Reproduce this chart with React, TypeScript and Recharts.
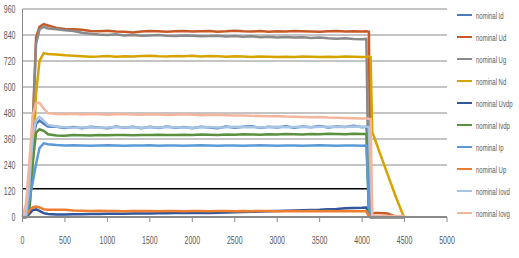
import { LineChart, Line, XAxis, YAxis, ReferenceLine } from "recharts";

// time axis (shared by every series)
const X = [
  0, 40, 80, 120, 160, 200, 250, 300,
  400, 500, 600, 700, 800, 900, 1000, 1100, 1200, 1300, 1400, 1500, 1600, 1700, 1800, 1900,
  2000, 2100, 2200, 2300, 2400, 2500, 2600, 2700, 2800, 2900, 3000, 3100, 3200, 3300, 3400,
  3500, 3600, 3700, 3800, 3900, 4000,
  4050, 4080, 4100, 4120, 4150, 4200, 4300, 4400, 4490,
];

const ID = [
  0, 5, 120, 350, 430, 445, 430, 418,
  416, 411, 415, 410, 417, 413, 410, 418, 412, 416, 410, 417, 411, 418, 412, 415, 410, 417, 413,
  410, 418, 412, 416, 419, 411, 417, 413, 419, 412, 418, 414, 420, 413, 418, 415, 421, 414,
  416, 300, 0, 0, 0, 0, 0, 0, 0,
];
const UD = [
  0, 0, 20, 420, 830, 878, 890, 884,
  872, 868, 866, 864, 858, 857, 860, 856, 855, 852, 856, 858, 857, 855, 857, 859, 856, 857, 858,
  855, 857, 860, 857, 856, 858, 855, 857, 856, 858, 857, 856, 855, 857, 858, 856, 857, 856,
  857, 855, 60, 15, 18, 18, 16, 2, 0,
];
const UG = [
  0, 0, 15, 400, 800, 865, 878, 870,
  866, 862, 858, 850, 846, 842, 840, 843, 838, 840, 836, 838, 840, 837, 835, 838, 836, 834, 835,
  837, 833, 835, 832, 834, 830, 832, 829, 831, 828, 830, 826, 828, 825, 823, 825, 822, 820,
  822, 40, 0, 0, 0, 0, 0, 0, 0,
];
const ND = [
  0, 0, 20, 230, 570, 720, 756, 752,
  750, 746, 744, 742, 740, 741, 743, 740, 742, 741, 743, 744, 742, 741, 743, 742, 744, 741, 743,
  742, 740, 742, 741, 739, 741, 740, 738, 740, 739, 741, 740, 738, 740, 739, 741, 740, 739,
  740, 741, 738, 390, 360, 305, 197, 90, 2,
];
const UVDP = [
  0, 0, 15, 32, 35, 28, 18, 14,
  12, 12, 13, 13, 14, 14, 15, 15, 15, 16, 16, 16, 17, 17, 18, 18, 18, 19, 19,
  20, 21, 22, 23, 24, 25, 26, 28, 29, 30, 31, 32, 33, 36, 37, 40, 42, 43,
  44, 3, 0, 0, 0, 0, 0, 0, 0,
];
const IVDP = [
  0, 0, 30, 250, 390, 405, 398, 382,
  376, 375, 378, 377, 376, 378, 377, 379, 378, 377, 379, 378, 380, 379, 378, 380, 379, 381, 380,
  379, 381, 380, 382, 381, 380, 382, 381, 383, 382, 381, 383, 382, 384, 383, 382, 384, 383,
  383, 10, 0, 0, 0, 0, 0, 0, 0,
];
const IP = [
  0, 5, 80, 160, 245, 318, 340, 336,
  332, 330, 331, 330, 329, 330, 331, 330, 329, 330, 330, 331, 329, 330, 330, 329, 330, 331, 330,
  329, 330, 330, 329, 330, 331, 330, 329, 330, 330, 329, 330, 331, 330, 329, 330, 330, 329,
  330, 60, 0, 0, 0, 0, 0, 0, 0,
];
const UP = [
  0, 5, 30, 44, 48, 44, 36, 34,
  34, 33, 30, 29, 28, 29, 28, 28, 27, 28, 28, 28, 27, 28, 28, 27, 28, 28, 27,
  28, 28, 27, 28, 27, 28, 28, 27, 27, 28, 27, 28, 27, 28, 27, 28, 27, 27,
  27, 2, 0, 0, 0, 0, 0, 0, 0,
];
const IOVD = [
  0, 10, 150, 380, 448, 462, 445, 425,
  418, 414, 412, 413, 414, 412, 413, 415, 413, 414, 412, 414, 413, 415, 414, 413, 412, 414, 415,
  413, 414, 416, 414, 415, 413, 415, 416, 414, 415, 416, 414, 416, 417, 415, 416, 418, 416,
  416, 415, 200, 5, 4, 4, 4, 4, 4,
];
const IOVG = [
  0, 60, 250, 470, 525, 527, 500, 480,
  475, 474, 476, 473, 475, 474, 472, 474, 475, 473, 472, 474, 473, 471, 472, 474, 472, 470, 471,
  472, 470, 468, 469, 467, 466, 465, 466, 464, 463, 462, 460, 461, 459, 458, 457, 456, 455,
  455, 454, 452, 6, 5, 5, 5, 5, 5,
];

const X_TICKS = [0, 500, 1000, 1500, 2000, 2500, 3000, 3500, 4000, 4500, 5000];
const Y_TICKS = [0, 120, 240, 360, 480, 600, 720, 840, 960];
const GRID_VALUES = [240, 360, 480, 600, 720, 840, 960];
// the black rule drawn across the plot just above 120
const MARK_Y = 130;
const MARK_END = 4120;

const SERIES = [
  { key: "Id", name: "nominal Id", color: "#4a7ebb", values: ID },
  { key: "Ud", name: "nominal Ud", color: "#c55a28", values: UD },
  { key: "Ug", name: "nominal Ug", color: "#8a8a8a", values: UG },
  { key: "Nd", name: "nominal Nd", color: "#d6a400", values: ND },
  { key: "Uvdp", name: "nominal Uvdp", color: "#30579c", values: UVDP },
  { key: "Ivdp", name: "nominal Ivdp", color: "#5a9040", values: IVDP },
  { key: "Ip", name: "nominal Ip", color: "#5b9bd5", values: IP },
  { key: "Up", name: "nominal Up", color: "#ed7d31", values: UP },
  { key: "Iovd", name: "nominal Iovd", color: "#a8c4e4", values: IOVD },
  { key: "Iovg", name: "nominal Iovg", color: "#f4b59e", values: IOVG },
];

const data = X.map((x, i) => {
  const row: Record<string, number> = { x };
  SERIES.forEach((s) => (row[s.key] = s.values[i]));
  return row;
});

const FONT = "'Liberation Sans', Arial, sans-serif";
const TEXT = "#595959";
const AXIS = "#8a8a8a";

function XTick({ x, y, payload }: any) {
  return (
    <g transform={`translate(${x},${y})`}>
      <text transform="scale(0.67,1)" textAnchor="middle" dy="0.71em" fontSize={10.5} fill={TEXT} fontFamily={FONT}>
        {payload.value}
      </text>
    </g>
  );
}

function YTick({ x, y, payload }: any) {
  return (
    <g transform={`translate(${x},${y})`}>
      <text transform="scale(0.67,1)" textAnchor="end" dy="0.355em" fontSize={10.5} fill={TEXT} fontFamily={FONT}>
        {payload.value}
      </text>
    </g>
  );
}

function LegendBox() {
  return (
    <div style={{ position: "absolute", left: 457, top: 4 }}>
      {SERIES.map((s) => (
        <div key={s.key} style={{ height: 22, display: "flex", alignItems: "center" }}>
          <span style={{ display: "inline-block", width: 15, height: 2.5, background: s.color }} />
          <span
            style={{
              marginLeft: 4,
              fontFamily: FONT,
              fontSize: 9.5,
              color: TEXT,
              whiteSpace: "nowrap",
              transform: "scale(0.63,1)",
              transformOrigin: "left center",
              display: "inline-block",
            }}
          >
            {s.name}
          </span>
        </div>
      ))}
    </div>
  );
}

export default function App() {
  return (
    <div style={{ position: "absolute", left: 0, top: 0, width: 519, height: 258, background: "#fff" }}>
      <LineChart width={519} height={258} data={data} margin={{ top: 9, right: 72, bottom: 0, left: 0 }}>
        <XAxis
          dataKey="x"
          type="number"
          domain={[0, 5000]}
          ticks={X_TICKS}
          interval={0}
          height={41}
          stroke={AXIS}
          axisLine={{ stroke: AXIS, strokeWidth: 2 }}
          tickLine={{ stroke: AXIS }}
          tickSize={5}
          tickMargin={15}
          tick={<XTick />}
        />
        <YAxis
          type="number"
          domain={[0, 960]}
          ticks={Y_TICKS}
          interval={0}
          width={22.5}
          axisLine={{ stroke: AXIS }}
          tickLine={false}
          tickSize={0}
          tickMargin={7}
          tick={<YTick />}
        />
        {GRID_VALUES.map((v) => (
          <ReferenceLine key={v} y={v} stroke={AXIS} strokeWidth={1} />
        ))}
        <ReferenceLine
          segment={[{ x: 0, y: MARK_Y }, { x: MARK_END, y: MARK_Y }]}
          stroke="#000"
          strokeWidth={1.5}
        />
        {SERIES.map((s) => (
          <Line
            key={s.key}
            dataKey={s.key}
            name={s.name}
            type="linear"
            stroke={s.color}
            strokeWidth={2.5}
            dot={false}
            activeDot={false}
            isAnimationActive={false}
          />
        ))}
      </LineChart>
      <LegendBox />
    </div>
  );
}
